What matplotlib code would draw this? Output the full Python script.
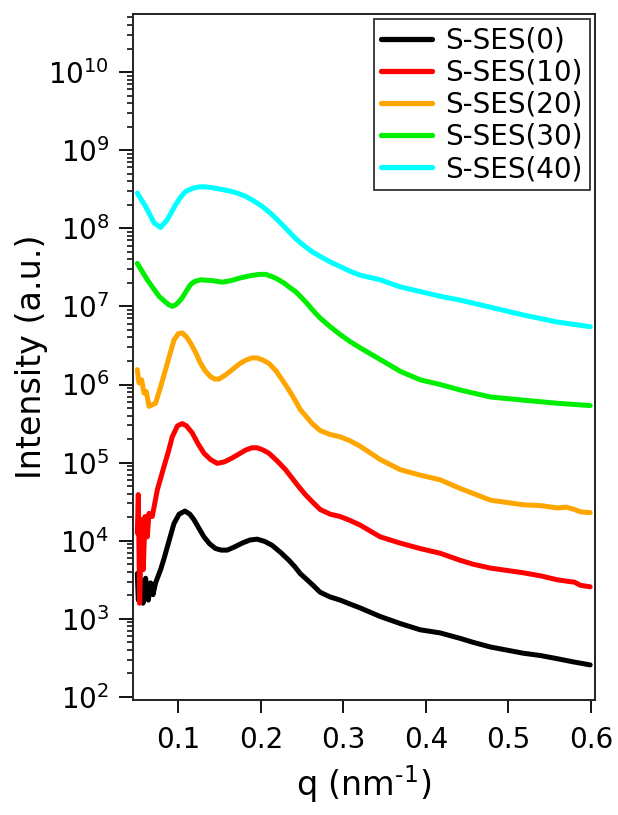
import numpy as np
import matplotlib
matplotlib.use("Agg")
import matplotlib.pyplot as plt

labels = ["S-SES(0)", "S-SES(10)", "S-SES(20)", "S-SES(30)", "S-SES(40)"]
colors = ["#000000", "#ff0000", "#ffa500", "#00ee00", "#00ffff"]

# S-SES(0)
q0 = [0.0504, 0.0516, 0.0544, 0.0573, 0.0604, 0.0637, 0.0665, 0.0694, 0.0725, 0.0786,
      0.0827, 0.0867, 0.0910, 0.0948, 0.1010, 0.1081, 0.1140, 0.1190, 0.1250, 0.1311,
      0.1380, 0.1452, 0.1520, 0.1593, 0.1680, 0.1775, 0.1870, 0.1956, 0.2050, 0.2138,
      0.2240, 0.2340, 0.2410, 0.2477, 0.2550, 0.2622, 0.2719, 0.2840, 0.2961, 0.3080,
      0.3203, 0.3446, 0.3688, 0.3930, 0.4172, 0.4414, 0.457, 0.478, 0.498, 0.518,
      0.539, 0.559, 0.578, 0.599]
logI0 = [3.58, 3.24, 3.50, 3.20, 3.52, 3.24, 3.46, 3.31, 3.46, 3.63,
         3.77, 3.92, 4.08, 4.22, 4.34, 4.38, 4.34, 4.27, 4.16, 4.05,
         3.96, 3.90, 3.88, 3.88, 3.92, 3.97, 4.01, 4.02, 3.99, 3.94,
         3.85, 3.75, 3.67, 3.58, 3.51, 3.44, 3.34, 3.28, 3.24, 3.19,
         3.14, 3.03, 2.94, 2.86, 2.82, 2.75, 2.70, 2.64, 2.60, 2.56,
         2.53, 2.49, 2.45, 2.41]

# S-SES(10)
q10 = [0.0504, 0.0516, 0.0532, 0.0556, 0.0576, 0.0597, 0.0625, 0.0645, 0.0685, 0.0746,
       0.0827, 0.0880, 0.0927, 0.0990, 0.1048, 0.1100, 0.1169, 0.1240, 0.1311, 0.1390,
       0.1472, 0.1560, 0.1654, 0.1735, 0.1815, 0.1890, 0.1956, 0.2030, 0.2098, 0.2200,
       0.2299, 0.2380, 0.2461, 0.2540, 0.2622, 0.2719, 0.2840, 0.2961, 0.3080, 0.3203,
       0.3446, 0.3688, 0.3930, 0.4172, 0.4414, 0.457, 0.478, 0.498, 0.518, 0.539,
       0.559, 0.572, 0.580, 0.587, 0.599]
logI10 = [4.10, 4.59, 3.20, 4.27, 3.63, 4.31, 4.05, 4.35, 4.31, 4.65,
          4.95, 5.14, 5.33, 5.47, 5.50, 5.47, 5.38, 5.24, 5.12, 5.04,
          4.99, 5.01, 5.06, 5.11, 5.16, 5.19, 5.19, 5.16, 5.12, 5.02,
          4.91, 4.80, 4.69, 4.59, 4.50, 4.40, 4.34, 4.31, 4.26, 4.20,
          4.05, 3.97, 3.90, 3.84, 3.75, 3.70, 3.65, 3.62, 3.59, 3.55,
          3.50, 3.48, 3.47, 3.43, 3.41]

# S-SES(20)
q20 = [0.0504, 0.0524, 0.0556, 0.0585, 0.0613, 0.0645, 0.0685, 0.0725, 0.0786, 0.0827,
       0.0867, 0.0910, 0.0948, 0.1000, 0.1048, 0.1100, 0.1149, 0.1210, 0.1270, 0.1330,
       0.1391, 0.1440, 0.1493, 0.1570, 0.1654, 0.1735, 0.1815, 0.1890, 0.1956, 0.2030,
       0.2098, 0.2180, 0.2259, 0.2340, 0.2420, 0.2477, 0.2550, 0.2622, 0.2719, 0.2840,
       0.2961, 0.3080, 0.3203, 0.3446, 0.3688, 0.3930, 0.4172, 0.4414, 0.478, 0.498,
       0.518, 0.539, 0.559, 0.570, 0.580, 0.587, 0.599]
logI20 = [6.19, 6.02, 6.06, 5.89, 5.91, 5.72, 5.74, 5.76, 5.97, 6.12,
          6.27, 6.43, 6.57, 6.65, 6.66, 6.61, 6.53, 6.41, 6.27, 6.17,
          6.10, 6.07, 6.07, 6.12, 6.19, 6.26, 6.31, 6.34, 6.34, 6.31,
          6.27, 6.18, 6.06, 5.93, 5.79, 5.68, 5.59, 5.50, 5.41, 5.36,
          5.33, 5.28, 5.21, 5.04, 4.91, 4.84, 4.78, 4.67, 4.52, 4.49,
          4.46, 4.45, 4.42, 4.43, 4.40, 4.37, 4.36]

# S-SES(30)
q30 = [0.0504, 0.0625, 0.0766, 0.0840, 0.0887, 0.0930, 0.0967, 0.1000, 0.1048, 0.1100,
       0.1149, 0.1200, 0.1270, 0.1412, 0.1533, 0.1640, 0.1735, 0.1860, 0.1977, 0.2060,
       0.2138, 0.2200, 0.2280, 0.2340, 0.2420, 0.2477, 0.2550, 0.2622, 0.2719, 0.2840,
       0.2961, 0.3080, 0.3203, 0.3446, 0.3688, 0.3930, 0.4172, 0.4414, 0.478, 0.518,
       0.559, 0.599]
logI30 = [7.55, 7.34, 7.13, 7.06, 7.02, 7.00, 7.02, 7.05, 7.11, 7.20,
          7.28, 7.32, 7.34, 7.33, 7.31, 7.33, 7.36, 7.39, 7.41, 7.41,
          7.38, 7.35, 7.30, 7.25, 7.19, 7.13, 7.05, 6.96, 6.85, 6.74,
          6.64, 6.55, 6.47, 6.32, 6.17, 6.06, 6.00, 5.93, 5.84, 5.80,
          5.76, 5.73]

# S-SES(40)
q40 = [0.0504, 0.0604, 0.0706, 0.0786, 0.0867, 0.0920, 0.0967, 0.1030, 0.1088, 0.1170,
       0.1251, 0.1330, 0.1412, 0.1510, 0.1614, 0.1715, 0.1815, 0.1915, 0.2017, 0.2120,
       0.2219, 0.2320, 0.2420, 0.2520, 0.2622, 0.2719, 0.2840, 0.2961, 0.3080, 0.3203,
       0.3446, 0.3688, 0.3930, 0.4172, 0.4414, 0.478, 0.518, 0.559, 0.599]
logI40 = [8.45, 8.28, 8.07, 8.01, 8.11, 8.21, 8.30, 8.40, 8.47, 8.51,
          8.53, 8.53, 8.52, 8.50, 8.48, 8.45, 8.41, 8.35, 8.28, 8.19,
          8.09, 7.98, 7.87, 7.78, 7.70, 7.64, 7.57, 7.51, 7.45, 7.40,
          7.34, 7.25, 7.19, 7.13, 7.08, 6.99, 6.89, 6.80, 6.74]

series_q = [q0, q10, q20, q30, q40]
series_logI = [logI0, logI10, logI20, logI30, logI40]

xticks = [0.1, 0.2, 0.3, 0.4, 0.5, 0.6]
xticklabels = ["0.1", "0.2", "0.3", "0.4", "0.5", "0.6"]

fig = plt.figure(figsize=(6.18, 8.15), dpi=100)
ax = fig.add_axes([0.215, 0.141, 0.748, 0.842])

for q, li, c, lab in zip(series_q, series_logI, colors, labels):
    ax.plot(q, 10 ** np.array(li), color=c, lw=3.6, label=lab,
            solid_joinstyle="round", solid_capstyle="round")

ax.set_yscale("log")
ax.set_xlim(0.045, 0.605)
ax.set_ylim(10 ** 1.96, 10 ** 10.745)
ax.set_yticks([10.0 ** k for k in range(2, 11)])
ax.yaxis.set_minor_locator(matplotlib.ticker.LogLocator(base=10, subs=np.arange(2, 10), numticks=20))
ax.yaxis.set_minor_formatter(matplotlib.ticker.NullFormatter())
ax.set_xticks(xticks)
ax.set_xticklabels(xticklabels)

for s in ax.spines.values():
    s.set_linewidth(1.4)
    s.set_color("#222222")

ax.tick_params(axis="both", which="major", labelsize=20, width=1.3, length=10, pad=7, direction="out")
ax.tick_params(axis="y", which="minor", width=1.1, length=4.5, direction="out")
ax.tick_params(axis="x", which="major", length=9, pad=10)

ax.set_xlabel(r"q (nm$^{\text{-1}}$)", fontsize=24, labelpad=6)
ax.set_ylabel("Intensity (a.u.)", fontsize=24, labelpad=0)

leg = ax.legend(loc="upper right", fontsize=20, frameon=True, fancybox=False,
                edgecolor="black", handlelength=1.85, handletextpad=0.47,
                labelspacing=0.15, borderpad=0.25, borderaxespad=0.2)
leg.get_frame().set_linewidth(1.3)
for line in leg.get_lines():
    line.set_linewidth(3.8)

fig.savefig("out.png", dpi=100)
